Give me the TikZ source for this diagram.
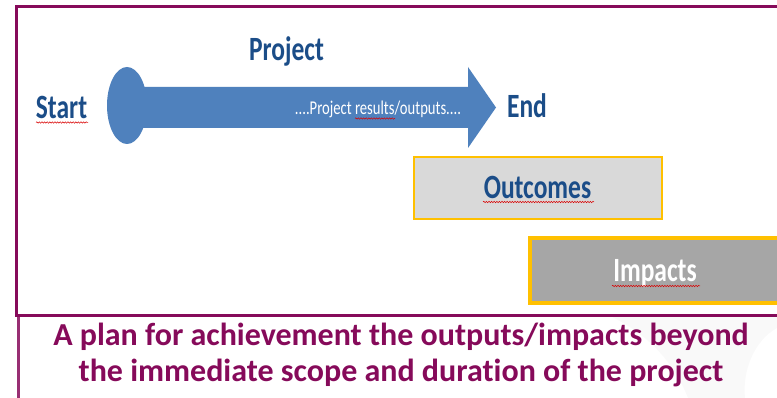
\documentclass[tikz,border=0pt]{standalone}
\usepackage{fontspec}
\setmainfont{Carlito}[Ligatures=NoCommon]
\newfontfamily\narrowfont{Carlito}[FakeStretch=0.75,Ligatures=NoCommon]
\usetikzlibrary{decorations.pathmorphing}
\definecolor{framepurple}{RGB}{134,10,90}
\definecolor{darkblue}{RGB}{27,77,136}
\definecolor{arrowblue}{RGB}{79,129,189}
\definecolor{gold}{RGB}{255,192,0}
\definecolor{lightbox}{RGB}{217,217,217}
\definecolor{darkbox}{RGB}{166,166,166}
\begin{document}
\begin{tikzpicture}[x=1pt,y=-1pt,
  bluelabel/.style={anchor=base, text=darkblue, font=\narrowfont\bfseries\fontsize{34}{34}\selectfont, inner sep=0pt},
  boxstyle/.style={draw=gold, rectangle, inner sep=0pt},
  captiontext/.style={anchor=base, text=framepurple, font=\bfseries\fontsize{32}{36}\selectfont, inner sep=0pt},
  squiggle/.style={red!85!black, line width=0.5pt, decorate, decoration={snake, segment length=2.6pt, amplitude=0.7pt}}]
\useasboundingbox (0,0) rectangle (777,398);
% faint background swoosh
\fill[gray!5] (610,316) .. controls (650,335) and (675,365) .. (688,398) -- (745,398) .. controls (742,370) and (755,340) .. (777,328) -- (777,316) -- cycle;
% frame
\draw[framepurple, line width=3pt, fill=white] (16.5,7) rectangle (790,315.5);
\draw[framepurple!85, line width=3pt] (18.5,317) -- (18.5,400);
% arrow
\fill[arrowblue] (127,105.5) ellipse [x radius=20, y radius=38.5];
\fill[arrowblue] (135,87) -- (468,87) -- (468,67) -- (496,107.5) -- (468,148) -- (468,128) -- (135,128) -- cycle;
\coordinate (arrowtail) at (127,105.5);
\coordinate (arrowtip) at (496,107.5);
% labels
\node[bluelabel] (project) at (286.5,61) {Project};
\node[bluelabel] (start) at (61.5,119) {Start};
\node[bluelabel] (end) at (527,117.3) {End};
\node[anchor=base, text=white, font=\narrowfont\fontsize{19.5}{19.5}\selectfont, inner sep=0pt] (results) at (378,115) {....Project results/outputs....};
% boxes
\node[boxstyle, fill=lightbox, line width=2.5pt, minimum width=248pt, minimum height=62pt] (outcomesbox) at (538,188) {};
\node[bluelabel] (outcomes) at (537.5,198.3) {Outcomes};
\node[boxstyle, fill=darkbox, line width=3.5pt, minimum width=260pt, minimum height=65pt] (impactsbox) at (660,270.5) {};
\node[bluelabel, text=white] (impacts) at (655,281.7) {Impacts};
% spell-check squiggles
\draw[squiggle] (36,122.5) -- (88,122.5);
\draw[squiggle] (355,118.5) -- (395,118.5);
\draw[squiggle] (483,202) -- (594,202);
\draw[squiggle] (612,286) -- (700,286);
% caption
\node[captiontext] (cap1) at (401,345) {A plan for achievement the outputs/impacts beyond};
\node[captiontext] (cap2) at (401,381.7) {the immediate scope and duration of the project};
\end{tikzpicture}
\end{document}
